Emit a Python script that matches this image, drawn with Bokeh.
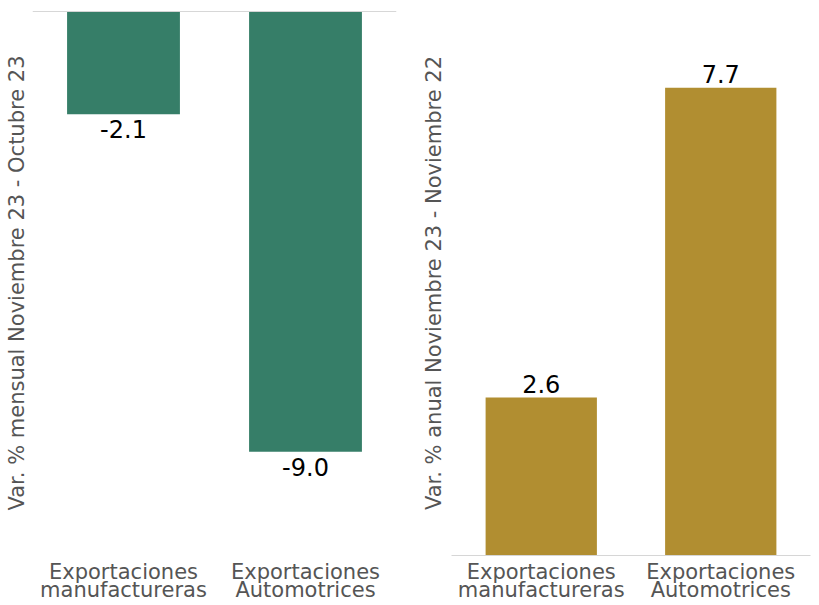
from bokeh.plotting import figure
from bokeh.models import FactorRange, Range1d, FixedTicker, Span, ColumnDataSource
from bokeh.layouts import row
from bokeh.core.properties import value
from bokeh.embed import file_html
from bokeh.resources import INLINE

categories = ["Exportaciones\nmanufactureras", "Exportaciones\nAutomotrices"]
mensual = [-2.1, -9.0]
anual = [2.6, 7.7]
ylabel_left = "Var. % mensual Noviembre 23 - Octubre 23"
ylabel_right = "Var. % anual Noviembre 23 - Noviembre 22"

FONT = "DejaVu Sans"
GREEN = "#367E68"
GOLD = "#B18E31"
GRAY = "#555555"


def base(width, y_range, border_left, border_right, border_top, ylabel, standoff):
    p = figure(width=width, height=605, x_range=FactorRange(*categories, range_padding=0),
               y_range=y_range, output_backend="svg", toolbar_location=None,
               min_border_left=border_left, min_border_right=border_right,
               min_border_top=border_top, min_border_bottom=50)
    p.xgrid.visible = False
    p.ygrid.visible = False
    p.outline_line_color = None
    p.xaxis.major_tick_line_color = None
    p.xaxis.minor_tick_line_color = None
    p.xaxis.major_tick_out = 0
    p.xaxis.major_label_text_font = FONT
    p.xaxis.major_label_text_font_size = "21px"
    p.xaxis.major_label_text_line_height = 0.75
    p.xaxis.major_label_text_color = GRAY
    p.xaxis.major_label_standoff = 4
    p.yaxis.ticker = FixedTicker(ticks=[])
    p.yaxis.axis_line_color = None
    p.yaxis.major_tick_line_color = None
    p.yaxis.minor_tick_line_color = None
    p.yaxis.major_tick_out = 0
    p.yaxis.major_label_text_font_size = "0px"
    p.yaxis.axis_label = ylabel
    p.yaxis.axis_label_text_font = FONT
    p.yaxis.axis_label_text_font_size = "21px"
    p.yaxis.axis_label_text_font_style = "normal"
    p.yaxis.axis_label_text_color = GRAY
    p.yaxis.axis_label_standoff = standoff
    return p


# Left panel: monthly change (negative bars hanging from zero at top)
p1 = base(410, Range1d(-11.12, 0.02), 32, 14, 9, ylabel_left, 4)
src1 = ColumnDataSource(dict(x=categories, y=mensual, t=[f"{v:.1f}" for v in mensual]))
p1.vbar(x="x", top=0, bottom="y", width=0.62, source=src1, fill_color=GREEN, line_color=None)
p1.add_layout(Span(location=0, dimension="width", line_color="#d6d6d6", line_width=1))
p1.xaxis.axis_line_color = None
p1.text(x="x", y="y", text="t", source=src1, text_align="center", text_baseline="top",
        y_offset=6, text_font=value(FONT), text_font_size="24px", text_color="black")

# Right panel: annual change
p2 = base(409, Range1d(0, 8.97), 41, 9, 10, ylabel_right, 6)
src2 = ColumnDataSource(dict(x=categories, y=anual, t=[f"{v:.1f}" for v in anual]))
p2.vbar(x="x", top="y", bottom=0, width=0.62, source=src2, fill_color=GOLD, line_color=None)
p2.xaxis.axis_line_color = "#d6d6d6"
p2.text(x="x", y="y", text="t", source=src2, text_align="center", text_baseline="bottom",
        y_offset=-5, text_font=value(FONT), text_font_size="24px", text_color="black")

layout = row(p1, p2)
open("out.html", "w").write(file_html(layout, INLINE))
